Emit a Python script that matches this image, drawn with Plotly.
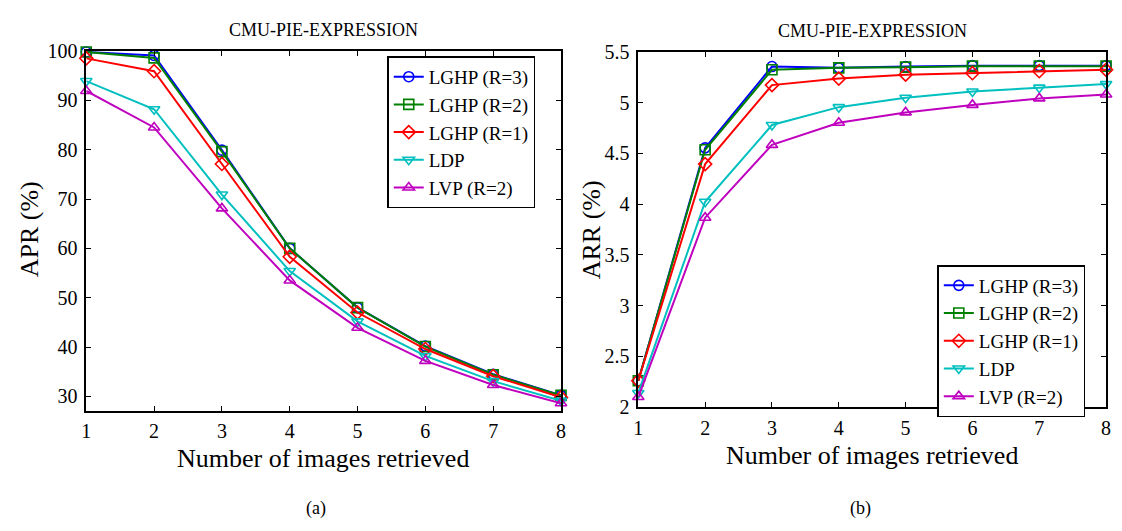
import plotly.graph_objects as go

x_vals = [1, 2, 3, 4, 5, 6, 7, 8]
series_names = ["LGHP (R=3)", "LGHP (R=2)", "LGHP (R=1)", "LDP", "LVP (R=2)"]

apr_lghp_r3 = [99.8, 99.1, 79.9, 60.0, 48.0, 40.2, 34.5, 30.2]
apr_lghp_r2 = [99.8, 98.6, 79.6, 60.0, 48.0, 40.1, 34.4, 30.2]
apr_lghp_r1 = [98.5, 95.9, 77.1, 58.3, 47.0, 39.6, 34.1, 29.8]
apr_ldp = [93.9, 88.2, 70.9, 55.4, 45.2, 38.2, 33.1, 29.1]
apr_lvp_r2 = [91.9, 84.5, 68.1, 53.5, 43.9, 37.2, 32.3, 28.6]

arr_lghp_r3 = [2.26, 4.555, 5.356, 5.343, 5.356, 5.365, 5.365, 5.365]
arr_lghp_r2 = [2.26, 4.536, 5.324, 5.343, 5.350, 5.360, 5.360, 5.360]
arr_lghp_r1 = [2.26, 4.395, 5.173, 5.237, 5.276, 5.290, 5.310, 5.324]
arr_ldp = [2.14, 4.024, 4.780, 4.956, 5.048, 5.110, 5.148, 5.183]
arr_lvp_r2 = [2.10, 3.867, 4.584, 4.802, 4.904, 4.978, 5.042, 5.080]

apr_ticks = [30, 40, 50, 60, 70, 80, 90, 100]
arr_ticks = [2, 2.5, 3, 3.5, 4, 4.5, 5, 5.5]
arr_tick_labels = ["2", "2.5", "3", "3.5", "4", "4.5", "5", "5.5"]

colors = ["#0000ff", "#008000", "#ff0000", "#00bfbf", "#bf00bf"]
symbols = ["circle-open", "square-open", "diamond-open", "triangle-down-open", "triangle-up-open"]

apr_series = [apr_lghp_r3, apr_lghp_r2, apr_lghp_r1, apr_ldp, apr_lvp_r2]
arr_series = [arr_lghp_r3, arr_lghp_r2, arr_lghp_r1, arr_ldp, arr_lvp_r2]

FONT = "Liberation Serif"
W, H = 1122, 531

fig = go.Figure()
for name, ys, c, s in zip(series_names, apr_series, colors, symbols):
    fig.add_trace(go.Scatter(x=x_vals, y=ys, name=name, mode="lines+markers",
                             line=dict(color=c, width=2),
                             marker=dict(symbol=s, size=10, color=c, line=dict(color=c, width=1.6)),
                             xaxis="x", yaxis="y", legend="legend", cliponaxis=False))
for name, ys, c, s in zip(series_names, arr_series, colors, symbols):
    fig.add_trace(go.Scatter(x=x_vals, y=ys, name=name, mode="lines+markers",
                             line=dict(color=c, width=2),
                             marker=dict(symbol=s, size=10, color=c, line=dict(color=c, width=1.6)),
                             xaxis="x2", yaxis="y2", legend="legend2", cliponaxis=False))

axis_common = dict(showline=True, linecolor="black", linewidth=1.5, mirror="ticks",
                   ticks="inside", ticklen=5, tickcolor="black", tickwidth=1,
                   showgrid=False, zeroline=False,
                   tickfont=dict(family=FONT, size=20, color="black"))

legend_common = dict(xanchor="left", yanchor="top", bgcolor="white",
                     bordercolor="black", borderwidth=1.5,
                     font=dict(family=FONT, size=19, color="black"), tracegroupgap=0)


def px(x, y):
    return x / W, 1 - y / H


annots = []
for txt, (x, y), size, angle in [
    ("CMU-PIE-EXPRESSION", (321, 20), 18, 0),
    ("CMU-PIE-EXPRESSION", (875, 21), 18, 0),
    ("Number of images retrieved", (321, 467), 26, 0),
    ("Number of images retrieved", (875, 464), 26, 0),
    ("APR (%)", (25, 228), 26, -90),
    ("ARR (%)", (592, 228), 26, -90),
    ("(a)", (314, 519), 18, 0),
    ("(b)", (863, 519), 18, 0),
]:
    ax, ay = px(x, y)
    annots.append(dict(text=txt, x=ax, y=ay, xref="paper", yref="paper", showarrow=False,
                       xanchor="center", yanchor="middle", textangle=angle,
                       font=dict(family=FONT, size=size, color="black")))

fig.update_layout(
    width=W, height=H,
    margin=dict(l=0, r=0, t=0, b=0),
    paper_bgcolor="white", plot_bgcolor="white",
    font=dict(family=FONT, color="black"),
    xaxis=dict(domain=[82 / W, 561 / W], range=[1, 8], dtick=1, anchor="y",
               ticklabelstandoff=2, **axis_common),
    yaxis=dict(domain=[1 - 417 / H, 1 - 41.7 / H], range=[27.1, 100], tickvals=apr_ticks, anchor="x",
               ticklabelstandoff=3, **axis_common),
    xaxis2=dict(domain=[639 / W, 1111 / W], range=[1, 8], dtick=1, anchor="y2",
                ticklabelstandoff=2, **axis_common),
    yaxis2=dict(domain=[1 - 413.3 / H, 1 - 42.7 / H], range=[2, 5.5], tickvals=arr_ticks,
                ticktext=arr_tick_labels, anchor="x2", ticklabelstandoff=3, **axis_common),
    legend=dict(x=385.7 / W, y=1 - 47.3 / H, **legend_common),
    legend2=dict(x=940.7 / W, y=1 - 265 / H, **legend_common),
    annotations=annots,
)

fig.write_html("out.html")
